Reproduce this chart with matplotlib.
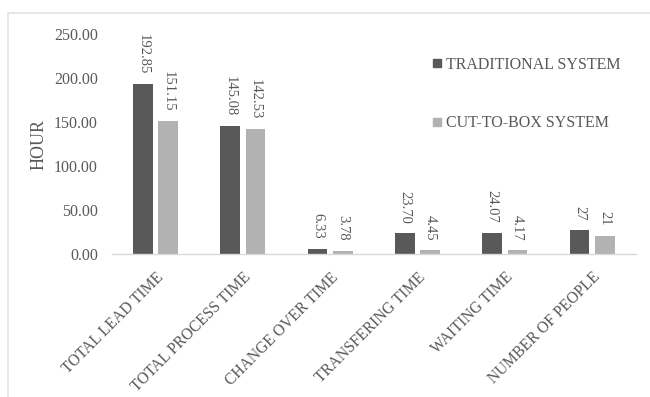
"""Compare lead time components of the traditional and cut-to-box systems."""
import numpy as np
import matplotlib
matplotlib.use("Agg")
import matplotlib.pyplot as plt
from matplotlib.lines import Line2D
from matplotlib.patches import Rectangle

plt.rcParams["font.family"] = ["Liberation Serif", "DejaVu Serif"]

categories = ["TOTAL LEAD TIME", "TOTAL PROCESS TIME", "CHANGE OVER TIME",
              "TRANSFERING TIME", "WAITING TIME", "NUMBER OF PEOPLE"]
traditional = [192.85, 145.08, 6.33, 23.70, 24.07, 27]
cut_to_box = [151.15, 142.53, 3.78, 4.45, 4.17, 21]
label_decimals = [2, 2, 2, 2, 2, 0]
series_names = ["TRADITIONAL SYSTEM", "CUT-TO-BOX SYSTEM"]

DARK = "#595959"
LIGHT = "#b2b2b2"
TEXT = "#595959"


def draw_chart():
    fig = plt.figure(figsize=(6.5, 3.97), dpi=100)
    # light frame around the chart area
    fig.patches.append(Rectangle((8 / 650, -0.1), 1.1, 1.1 - 13 / 397,
                                 transform=fig.transFigure, fill=False,
                                 edgecolor="#e3e3e3", linewidth=1.2))
    ax = fig.add_axes([0.172, 0.360, 0.806, 0.554])

    x = np.arange(len(categories))
    width = 0.225
    off = 0.145
    bars_a = ax.bar(x - off, traditional, width, color=DARK)
    bars_b = ax.bar(x + off, cut_to_box, width, color=LIGHT)

    for bars, values in ((bars_a, traditional), (bars_b, cut_to_box)):
        for rect, v, d in zip(bars, values, label_decimals):
            ax.annotate(f"{v:.{d}f}", (rect.get_x() + rect.get_width() / 2, v),
                        xytext=(0, 7), textcoords="offset points",
                        rotation=270, ha="center", va="bottom",
                        fontsize=10.5, color=TEXT)

    ax.set_xlim(-0.5, len(categories) - 0.5)
    ax.set_ylim(0, 250)
    ax.set_yticks(np.arange(0, 251, 50))
    ax.set_yticklabels([f"{t:.2f}" for t in np.arange(0, 251, 50)])
    ax.set_xticks(x)
    ax.set_xticklabels(categories, rotation=45, ha="right", va="top",
                       rotation_mode="anchor")
    ax.tick_params(axis="y", length=0, labelsize=11.5, colors=TEXT, pad=10)
    ax.tick_params(axis="x", length=0, labelsize=11.2, colors=TEXT, pad=11)

    for side in ("top", "right", "left"):
        ax.spines[side].set_visible(False)
    ax.spines["bottom"].set_color("#d9d9d9")
    ax.spines["bottom"].set_linewidth(1.0)

    ax.set_ylabel("HOUR", fontsize=13, color=TEXT)
    ax.yaxis.set_label_coords(-0.122, 0.5)

    handles = [Line2D([], [], marker="s", linestyle="none", markersize=6,
                      color=c) for c in (DARK, LIGHT)]
    fig.legend(handles, series_names, loc="upper left",
               bbox_to_anchor=(432 / 650, 1 - 57 / 397), frameon=False,
               fontsize=11.5, labelcolor=TEXT, labelspacing=2.65,
               handlelength=0.6, handletextpad=0.3, borderpad=0,
               borderaxespad=0)

    fig.savefig("out.png", dpi=100)
    plt.close(fig)


def main():
    draw_chart()


if __name__ == "__main__":
    main()
